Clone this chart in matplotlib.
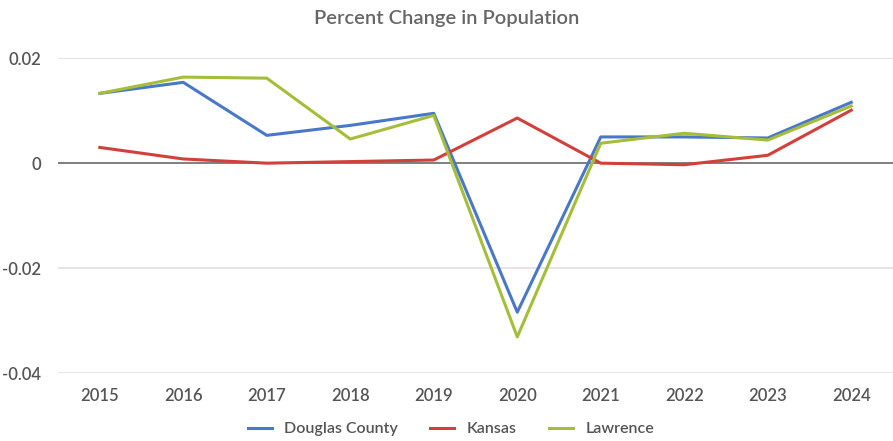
import matplotlib
matplotlib.use('Agg')
import matplotlib.pyplot as plt

plt.rcParams['font.family'] = ['Lato', 'DejaVu Sans']

# data
years = ['2015', '2016', '2017', '2018', '2019', '2020', '2021', '2022', '2023', '2024']
douglas = [0.0133, 0.0154, 0.0053, 0.0072, 0.0095, -0.0284, 0.0050, 0.0050, 0.0048, 0.0116]
kansas = [0.0030, 0.0008, 0.0000, 0.0003, 0.0006, 0.0086, 0.0000, -0.0003, 0.0015, 0.0101]
lawrence = [0.0133, 0.0164, 0.0162, 0.0046, 0.0091, -0.0331, 0.0038, 0.0057, 0.0044, 0.0109]

fig = plt.figure(figsize=(8.93, 4.41), dpi=100)
ax = fig.add_axes([0.065, 0.154, 0.935, 0.714])

x = list(range(len(years)))
ax.plot(x, douglas, color='#4a78c8', lw=2.2, label='Douglas County', zorder=3)
ax.plot(x, kansas, color='#d2403c', lw=2.2, label='Kansas', zorder=3)
ax.plot(x, lawrence, color='#a4be3a', lw=2.2, label='Lawrence', zorder=3)

ax.set_xlim(-0.5, 9.5)
ax.set_ylim(-0.04, 0.02)
ax.set_yticks([-0.04, -0.02, 0, 0.02])
ax.set_yticklabels(['-0.04', '-0.02', '0', '0.02'])
ax.set_xticks(x)
ax.set_xticklabels(years)
ax.tick_params(length=0, labelsize=12, colors='#555555')
ax.tick_params(axis='x', pad=11)
ax.tick_params(axis='y', pad=12)
for t in ax.get_xticklabels() + ax.get_yticklabels():
    t.set_fontweight('semibold')
ax.grid(axis='y', color='#e6dede', lw=1.2)
ax.set_axisbelow(True)
ax.axhline(0, color='#777777', lw=1.3, zorder=2)
for s in ax.spines.values():
    s.set_visible(False)

fig.suptitle('Percent Change in Population', y=0.978, fontsize=14.5, color='#666666',
             fontweight='semibold')
fig.legend(loc='lower center', bbox_to_anchor=(0.505, -0.022), ncol=3, frameon=False,
           prop={'size': 11.5, 'weight': 'semibold'}, handlelength=1.5,
           columnspacing=2.0, labelcolor='#555555')

fig.savefig('out.png', dpi=100)
